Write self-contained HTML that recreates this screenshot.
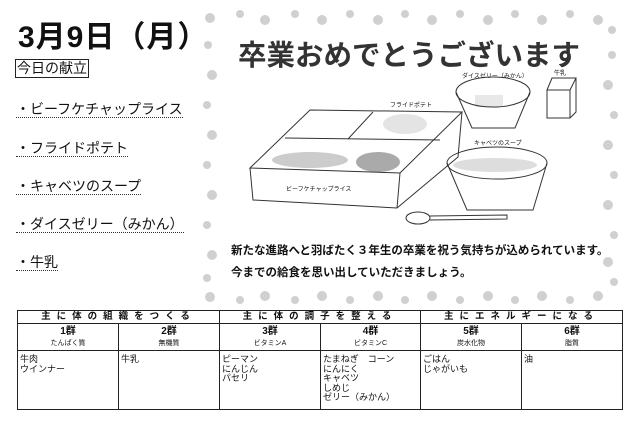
<!DOCTYPE html>
<html><head><meta charset="utf-8"><style>
body{margin:0;width:640px;height:423px;background:#fff;position:relative;overflow:hidden;font-family:"Liberation Sans","Noto Sans CJK JP",sans-serif;color:#111}
.a{position:absolute;white-space:nowrap}
.it{font-size:14px;border-bottom:1px dotted #333;line-height:16px}
table{position:absolute;left:17px;top:310px;width:605px;border-collapse:collapse;font-size:9px;table-layout:fixed}
td{border:1px solid #222;padding:0 2px;vertical-align:top;overflow:hidden}
.h td{text-align:center;font-weight:bold;font-size:9.5px;letter-spacing:6px;height:12px;line-height:12px}
.n td{text-align:center;height:24px;font-size:7px;line-height:11px;padding-top:2px}
.n b{font-size:10px}
.c td{height:54px;line-height:9.5px;padding-top:4px}
</style></head><body>
<svg class="a" style="left:0;top:0" width="640" height="423">
<g fill="#d0d0d0">
<circle cx="210" cy="18" r="5"/><circle cx="240" cy="14" r="4"/><circle cx="265" cy="20" r="5"/><circle cx="295" cy="14" r="4"/><circle cx="322" cy="20" r="5"/><circle cx="350" cy="14" r="4"/><circle cx="378" cy="20" r="5"/><circle cx="405" cy="14" r="4"/><circle cx="432" cy="20" r="5"/><circle cx="460" cy="14" r="4"/><circle cx="488" cy="20" r="5"/><circle cx="515" cy="14" r="4"/><circle cx="542" cy="20" r="5"/><circle cx="570" cy="14" r="4"/><circle cx="598" cy="20" r="5"/><circle cx="612" cy="30" r="4"/>
<circle cx="210" cy="297" r="5"/><circle cx="240" cy="300" r="4"/><circle cx="265" cy="296" r="5"/><circle cx="295" cy="300" r="4"/><circle cx="322" cy="296" r="5"/><circle cx="350" cy="300" r="4"/><circle cx="378" cy="296" r="5"/><circle cx="405" cy="300" r="4"/><circle cx="432" cy="296" r="5"/><circle cx="460" cy="300" r="4"/><circle cx="488" cy="296" r="5"/><circle cx="515" cy="300" r="4"/><circle cx="542" cy="296" r="5"/><circle cx="570" cy="300" r="4"/><circle cx="598" cy="296" r="5"/>
<circle cx="208" cy="45" r="4"/><circle cx="212" cy="75" r="5"/><circle cx="207" cy="105" r="4"/><circle cx="212" cy="135" r="5"/><circle cx="207" cy="165" r="4"/><circle cx="212" cy="195" r="5"/><circle cx="207" cy="225" r="4"/><circle cx="212" cy="255" r="5"/><circle cx="207" cy="278" r="4"/>
<circle cx="612" cy="55" r="4"/><circle cx="608" cy="85" r="5"/><circle cx="614" cy="115" r="4"/><circle cx="608" cy="145" r="5"/><circle cx="614" cy="175" r="4"/><circle cx="608" cy="205" r="5"/><circle cx="614" cy="235" r="4"/><circle cx="608" cy="262" r="5"/><circle cx="614" cy="282" r="4"/>
</g>
<g fill="#ccc"><ellipse cx="310" cy="160" rx="38" ry="8"/><ellipse cx="378" cy="162" rx="22" ry="10" fill="#aaa"/><ellipse cx="405" cy="124" rx="22" ry="10" fill="#e4e4e4"/><ellipse cx="495" cy="165" rx="42" ry="7" fill="#ddd"/><rect x="475" y="95" width="28" height="12" fill="#e8e8e8"/></g>
<g fill="none" stroke="#333" stroke-width="1">
<polygon points="250,168 310,110 462,112 400,173"/>
<polyline points="250,168 253,200 397,208 458,157 462,112"/>
<line x1="400" y1="173" x2="397" y2="208"/>
<line x1="285" y1="138" x2="440" y2="140"/><line x1="373" y1="112" x2="348" y2="139"/>
<ellipse cx="493" cy="92" rx="37" ry="15"/><path d="M456 92 L472 128 L515 128 L530 92"/>
<ellipse cx="497" cy="163" rx="50" ry="16"/><path d="M447 163 L467 210 L533 210 L547 163"/>
<rect x="547" y="90" width="23" height="28"/><path d="M547 90 L552 78 L576 78 L570 90 M576 78 L576 112 L570 118"/>
<ellipse cx="418" cy="218" rx="12" ry="6"/><path d="M430 216 L507 215 L507 219 L430 220"/>
</g>
</svg>
<div class="a" style="left:18px;top:12px;font-size:30px;font-weight:bold;letter-spacing:1px">3月9日（月）</div>
<div class="a" style="left:15px;top:59px;font-size:14px;border:1px solid #222;line-height:17px;padding:0 1px">今日の献立</div>
<div class="a it" style="left:16px;top:101px">・ビーフケチャップライス</div>
<div class="a it" style="left:16px;top:140px">・フライドポテト</div>
<div class="a it" style="left:16px;top:178px">・キャベツのスープ</div>
<div class="a it" style="left:16px;top:216px">・ダイスゼリー（みかん）</div>
<div class="a it" style="left:16px;top:254px">・牛乳</div>
<div class="a" style="left:238px;top:33px;font-size:28.5px;font-weight:bold;color:#333">卒業おめでとうございます</div>
<div class="a" style="left:462px;top:71px;font-size:6px">ダイスゼリー（みかん）</div>
<div class="a" style="left:554px;top:68px;font-size:6px">牛乳</div>
<div class="a" style="left:390px;top:100px;font-size:6px">フライドポテト</div>
<div class="a" style="left:474px;top:138px;font-size:6px">キャベツのスープ</div>
<div class="a" style="left:286px;top:184px;font-size:6px">ビーフケチャップライス</div>
<div class="a" style="left:231px;top:242px;font-size:11.5px;font-weight:bold">新たな進路へと羽ばたく３年生の卒業を祝う気持ちが込められています。</div>
<div class="a" style="left:231px;top:264px;font-size:11.5px;font-weight:bold">今までの給食を思い出していただきましょう。</div>
<table>
<colgroup><col style="width:101px"><col style="width:101px"><col style="width:101px"><col style="width:100px"><col style="width:101px"><col style="width:101px"></colgroup>
<tr class="h"><td colspan="2">主に体の組織をつくる</td><td colspan="2">主に体の調子を整える</td><td colspan="2">主にエネルギーになる</td></tr>
<tr class="n"><td><b>1群</b><br>たんぱく質</td><td><b>2群</b><br>無機質</td><td><b>3群</b><br>ビタミンA</td><td><b>4群</b><br>ビタミンC</td><td><b>5群</b><br>炭水化物</td><td><b>6群</b><br>脂質</td></tr>
<tr class="c"><td>牛肉<br>ウインナー</td><td>牛乳</td><td>ピーマン<br>にんじん<br>パセリ</td><td>たまねぎ　コーン<br>にんにく<br>キャベツ<br>しめじ<br>ゼリー（みかん）</td><td>ごはん<br>じゃがいも</td><td>油</td></tr>
</table>
</body></html>
